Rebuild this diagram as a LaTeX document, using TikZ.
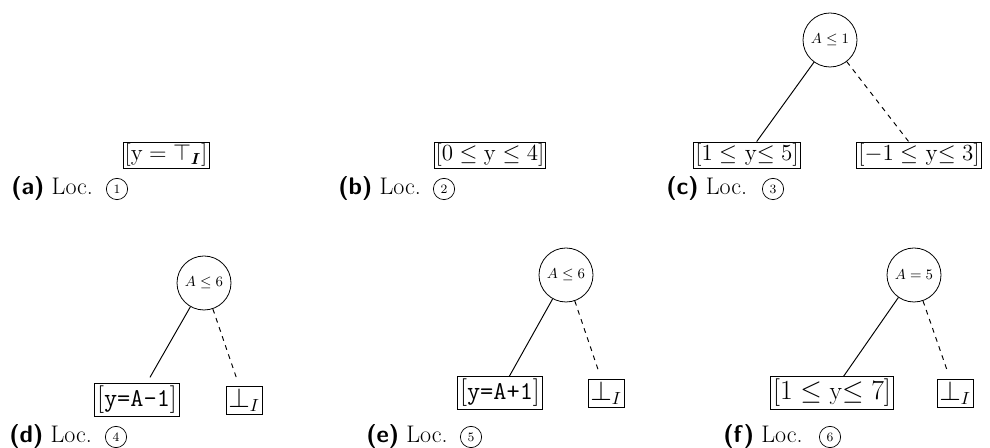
\documentclass[tikz,border=0pt]{standalone}
\usepackage{amsmath}
\usetikzlibrary{calc}
\begin{document}
\begin{tikzpicture}[x=0.625pt,y=-0.625pt,
  valbox/.style={draw, rectangle, inner sep=0.9pt, line width=0.5pt, font=\fontsize{14.6}{17}\selectfont},
  valboxb/.style={draw, rectangle, inner sep=1.5pt, line width=0.5pt, font=\fontsize{16}{19}\selectfont},
  cond/.style={draw, circle, minimum size=33.75pt, inner sep=0pt, line width=0.5pt, font=\fontsize{9}{11}\selectfont},
  subcap/.style={anchor=west, inner sep=0pt, font=\fontsize{15}{18}\selectfont},
  locnum/.style={draw, circle, minimum size=13.3pt, inner sep=0pt, line width=0.45pt, font=\fontsize{8}{9}\selectfont},
  tedge/.style={line width=0.6pt},
  fedge/.style={line width=0.6pt, dashed}
]
\useasboundingbox (0,0) rectangle (990,448);

% (a)
\node[valbox] (ba) at (166,155) {$[\mathrm{y} = \top_{\boldsymbol{I}}]$};
\node[subcap] (capa) at (11,189) {\textsf{\bfseries (a)} Loc.};
\node[locnum] (numa) at (117,189) {1};

% (b)
\node[valbox] (bb) at (490,155) {$[0 \leq \mathrm{y} \leq 4]$};
\node[subcap] (capb) at (338,189) {\textsf{\bfseries (b)} Loc.};
\node[locnum] (numb) at (444,189) {2};

% (c)
\node[cond] (cc) at (830,40) {$A\leq 1$};
\node[valbox] (ccl) at (747,155) {$[1\leq$ y$\leq5]$};
\node[valbox] (ccr) at (919,155) {$[-1\leq$ y$\leq3]$};
\draw[tedge] (cc) -- (ccl);
\draw[fedge] (cc) -- (ccr);
\node[subcap] (capc) at (666,189) {\textsf{\bfseries (c)} Loc.};
\node[locnum] (numc) at (773,189) {3};

% (d)
\node[cond] (cd) at (204,283) {$A\leq 6$};
\node[valboxb] (cdl) at (137,400) {$[$\texttt{y=A-1}$]$};
\node[valboxb] (cdr) at (244,400) {$\bot_I$};
\draw[tedge, shorten >=4.3pt] (cd) -- (cdl);
\draw[fedge, shorten >=4.6pt] (cd) -- (cdr);
\node[subcap] (capd) at (9,437) {\textsf{\bfseries (d)} Loc.};
\node[locnum] (numd) at (116,437) {4};

% (e)
\node[cond] (ce) at (566,275) {$A\leq 6$};
\node[valboxb] (cel) at (500,393) {$[$\texttt{y=A+1}$]$};
\node[valboxb] (cer) at (606,393) {$\bot_I$};
\draw[tedge] (ce) -- (cel);
\draw[fedge, shorten >=5.2pt] (ce) -- (cer);
\node[subcap] (cape) at (366,437) {\textsf{\bfseries (e)} Loc.};
\node[locnum] (nume) at (471,437) {5};

% (f)
\node[cond] (cf) at (914,275) {$A=5$};
\node[valboxb] (cfl) at (832,393) {$[1\leq$ y$\leq7]$};
\node[valboxb] (cfr) at (955,393) {$\bot_I$};
\draw[tedge] (cf) -- (cfl);
\draw[fedge, shorten >=5.2pt] (cf) -- (cfr);
\node[subcap] (capf) at (723,437) {\textsf{\bfseries (f)} Loc.};
\node[locnum] (numf) at (830,437) {6};
\end{tikzpicture}
\end{document}
